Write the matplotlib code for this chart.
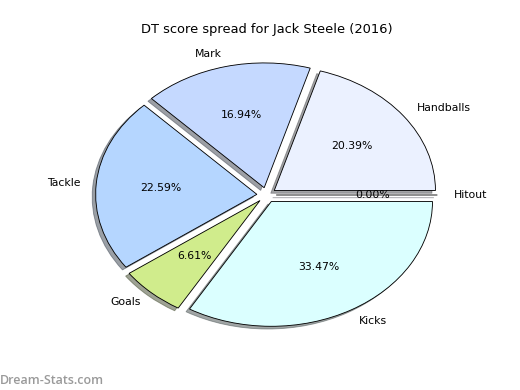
import matplotlib
matplotlib.use('Agg')
import matplotlib.pyplot as plt

labels = ['Hitout', 'Handballs', 'Mark', 'Tackle', 'Goals', 'Kicks']
values = [0.00, 20.39, 16.94, 22.59, 6.61, 33.47]
colors = ['#e0e0ff', '#ebf1ff', '#c5d9ff', '#b5d6ff', '#d0ec8c', '#dbffff']
explode = [0.06] * len(values)

DPI = 78
fig = plt.figure(figsize=(520 / DPI, 390 / DPI), dpi=DPI)
fig.subplots_adjust(left=0.125, right=0.9, bottom=0.1, top=0.9)
ax = fig.add_subplot(111)

ax.pie(values, labels=labels, colors=colors, explode=explode, autopct='%.2f%%',
       shadow=True, startangle=0,
       wedgeprops={'edgecolor': 'black', 'linewidth': 0.8})
ax.set_aspect('auto')
ax.set_title('DT score spread for Jack Steele (2016)')

fig.text(0.0, 0.015, 'Dream-Stats.com', color='#9a9a9a', fontsize=11.5,
         family='Open Sans', weight='semibold')

plt.savefig('out.png', dpi=DPI)
